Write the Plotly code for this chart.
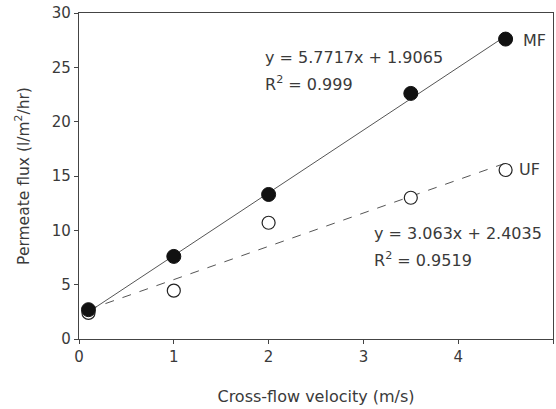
import plotly.graph_objects as go
import numpy as np

# Data
velocity = [0.1, 1, 2, 3.5, 4.5]
mf_flux = [2.7, 7.6, 13.3, 22.6, 27.6]
uf_flux = [2.4, 4.45, 10.7, 13.0, 15.55]

mf_slope, mf_intercept = 5.7717, 1.9065
uf_slope, uf_intercept = 3.063, 2.4035
mf_eq = "y = 5.7717x + 1.9065"
mf_r2 = "R<sup>2</sup> = 0.999"
uf_eq = "y = 3.063x + 2.4035"
uf_r2 = "R<sup>2</sup> = 0.9519"

x_ticks = [0, 1, 2, 3, 4, 5]
y_ticks = [0, 5, 10, 15, 20, 25, 30]

FONT = "DejaVu Sans"
TXT = "#3a3a3a"

fit_x = np.array([min(velocity), max(velocity)])

fig = go.Figure()
fig.add_trace(go.Scatter(x=fit_x, y=mf_slope * fit_x + mf_intercept, mode="lines",
                         line=dict(color="#555555", width=1), showlegend=False, hoverinfo="skip"))
fig.add_trace(go.Scatter(x=fit_x, y=uf_slope * fit_x + uf_intercept, mode="lines",
                         line=dict(color="#555555", width=1, dash="dash"), showlegend=False, hoverinfo="skip"))
fig.add_trace(go.Scatter(x=velocity, y=uf_flux, mode="markers", name="UF",
                         marker=dict(symbol="circle", size=13, color="white",
                                     line=dict(color="#222222", width=1.2)), showlegend=False))
fig.add_trace(go.Scatter(x=velocity, y=mf_flux, mode="markers", name="MF",
                         marker=dict(symbol="circle", size=14, color="#111111",
                                     line=dict(color="#111111", width=1)), showlegend=False))

ann_font = dict(family=FONT, size=16, color=TXT)
annotations = [
    dict(x=1.94, y=25.9, text=mf_eq, xanchor="left", yanchor="middle", showarrow=False, font=ann_font),
    dict(x=1.94, y=23.5, text=mf_r2, xanchor="left", yanchor="middle", showarrow=False, font=ann_font),
    dict(x=3.09, y=9.75, text=uf_eq, xanchor="left", yanchor="middle", showarrow=False, font=ann_font),
    dict(x=3.09, y=7.3, text=uf_r2, xanchor="left", yanchor="middle", showarrow=False, font=ann_font),
    dict(x=4.66, y=27.5, text="MF", xanchor="left", yanchor="middle", showarrow=False, font=ann_font),
    dict(x=4.62, y=15.6, text="UF", xanchor="left", yanchor="middle", showarrow=False, font=ann_font),
]

fig.update_layout(
    width=556, height=409,
    margin=dict(l=79, r=3, t=13, b=70),
    paper_bgcolor="white", plot_bgcolor="white",
    font=dict(family=FONT, size=15, color=TXT),
    annotations=annotations,
    xaxis=dict(range=[0, 5], tickvals=x_ticks, showgrid=False, zeroline=False,
               showline=True, mirror=True, linecolor="#444444", linewidth=1.2,
               ticks="outside", ticklen=4, tickcolor="#444444",
               tickfont=dict(family=FONT, size=15, color=TXT),
               title=dict(text="Cross-flow velocity (m/s)", font=dict(family=FONT, size=16, color=TXT), standoff=25)),
    yaxis=dict(range=[0, 30], tickvals=y_ticks, showgrid=False, zeroline=False,
               showline=True, mirror=True, linecolor="#444444", linewidth=1.2,
               ticks="outside", ticklen=4, tickcolor="#444444",
               tickfont=dict(family=FONT, size=15, color=TXT),
               title=dict(text="Permeate flux (l/m<sup>2</sup>/hr)", font=dict(family=FONT, size=15.5, color=TXT), standoff=18)),
)

fig.write_html("out.html", config={"displayModeBar": False},
               post_script="document.body.style.margin='0px';document.body.style.overflow='hidden';")
